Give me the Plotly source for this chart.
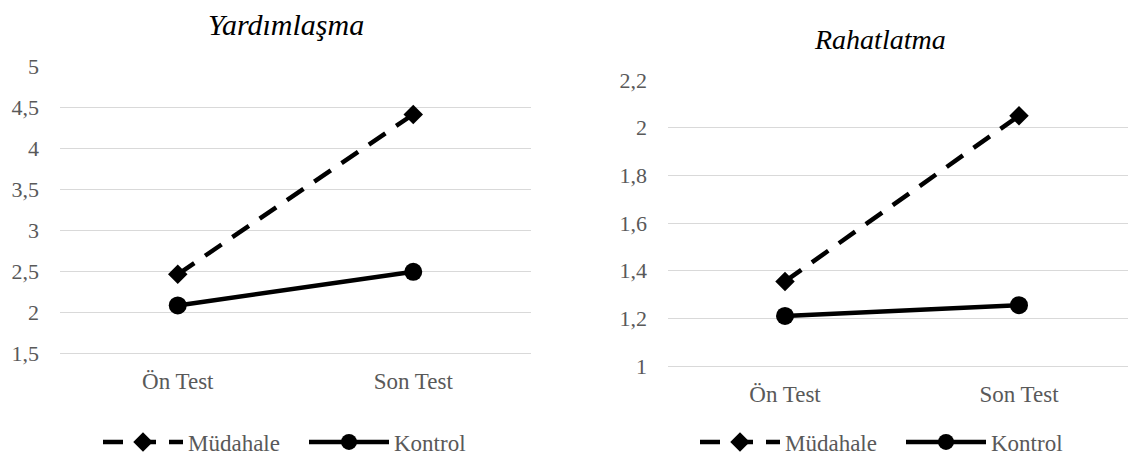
import plotly.graph_objects as go

categories = ["Ön Test", "Son Test"]
series_names = ["Müdahale", "Kontrol"]
yard_mudahale = [2.46, 4.41]
yard_kontrol = [2.08, 2.49]
rahat_mudahale = [1.355, 2.05]
rahat_kontrol = [1.21, 1.255]
yard_ticks = [1.5, 2, 2.5, 3, 3.5, 4, 4.5, 5]
rahat_ticks = [1, 1.2, 1.4, 1.6, 1.8, 2, 2.2]


def fmt(v):
    return ("%g" % v).replace(".", ",")


FONT = "Liberation Serif"
GRAY = "#595959"
OFF = 8  # page body margin

fig = go.Figure()


def add_pair(xa, ya, mud, kon, legend):
    fig.add_trace(go.Scatter(x=categories, y=mud, name=series_names[0], xaxis=xa, yaxis=ya,
                             mode="lines+markers", legend=legend,
                             line=dict(color="black", width=4.5, dash="20px,13px"),
                             marker=dict(symbol="diamond", size=15, color="black")))
    fig.add_trace(go.Scatter(x=categories, y=kon, name=series_names[1], xaxis=xa, yaxis=ya,
                             mode="lines+markers", legend=legend,
                             line=dict(color="black", width=4.5),
                             marker=dict(symbol="circle", size=18, color="black")))


add_pair("x", "y", yard_mudahale, yard_kontrol, "legend")
add_pair("x2", "y2", rahat_mudahale, rahat_kontrol, "legend2")

W, H = 1136 - OFF, 463 - OFF


def px(p):
    return (p - OFF) / W


def py(p):
    return 1 - (p - OFF) / H


xcommon = dict(type="category", range=[-0.5, 1.5], showgrid=False, zeroline=False,
               showline=True, linecolor="#d9d9d9", linewidth=1, ticks="",
               tickfont=dict(family=FONT, size=23, color=GRAY), ticklabelstandoff=7)
ycommon = dict(showgrid=True, gridcolor="#d9d9d9", gridwidth=1, zeroline=False, showline=False,
               ticks="", tickfont=dict(family=FONT, size=22, color=GRAY), ticklabelstandoff=20)

legfont = dict(family=FONT, size=23, color=GRAY)

fig.update_layout(
    width=W, height=H,
    font=dict(family=FONT),
    margin=dict(l=0, r=0, t=0, b=0, autoexpand=False),
    paper_bgcolor="white", plot_bgcolor="white",
    showlegend=True,
    xaxis=dict(domain=[px(60), px(531)], anchor="y", **xcommon),
    yaxis=dict(domain=[py(353), py(66)], anchor="x", range=[1.5, 5],
               tickvals=yard_ticks, ticktext=[fmt(v) for v in yard_ticks], **ycommon),
    xaxis2=dict(domain=[px(668), px(1136)], anchor="y2", **xcommon),
    yaxis2=dict(domain=[py(366), py(80)], anchor="x2", range=[1, 2.2],
                tickvals=rahat_ticks, ticktext=[fmt(v) for v in rahat_ticks], **ycommon),
    legend=dict(orientation="h", x=px(98), xanchor="left", y=py(442), yanchor="middle",
                font=legfont, itemwidth=80, entrywidth=111, tracegroupgap=0,
                bgcolor="rgba(0,0,0,0)"),
    legend2=dict(orientation="h", x=px(695), xanchor="left", y=py(442), yanchor="middle",
                 font=legfont, itemwidth=80, entrywidth=111, tracegroupgap=0,
                 bgcolor="rgba(0,0,0,0)"),
    annotations=[
        dict(text="<i>Yardımlaşma</i>", x=px(286), y=py(25), xref="paper", yref="paper",
             xanchor="center", yanchor="middle", showarrow=False,
             font=dict(family=FONT, size=30, color="black")),
        dict(text="<i>Rahatlatma</i>", x=px(880), y=py(40), xref="paper", yref="paper",
             xanchor="center", yanchor="middle", showarrow=False,
             font=dict(family=FONT, size=28, color="black")),
    ],
)

fig.write_html("out.html")
